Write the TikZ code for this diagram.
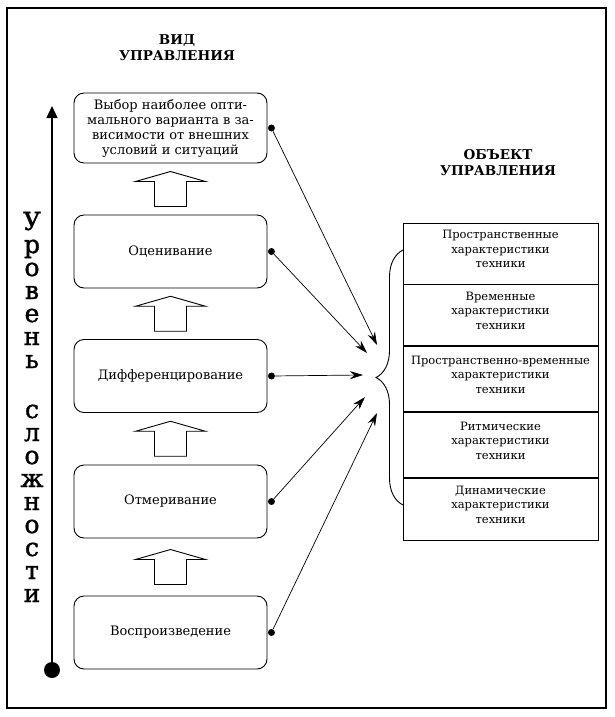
\documentclass[tikz,border=0pt]{standalone}
\usepackage{fontspec}
\setmainfont{DejaVu Serif}
\newfontfamily\levelfont[FakeBold=1.4]{DejaVu Serif}
\usetikzlibrary{arrows.meta, positioning, calc, decorations.pathreplacing}

\begin{document}
\begin{tikzpicture}[x=1pt, y=-1pt,
    vid/.style={rectangle, rounded corners=10pt, draw, line width=0.9pt, minimum width=193pt, minimum height=73pt, align=center, font=\fontsize{13}{15}\selectfont},
    obj/.style={rectangle, draw, line width=0.8pt, minimum width=195pt, align=center, font=\fontsize{11.5}{14.5}\selectfont, inner sep=0pt, text depth=9pt},
    head/.style={font=\bfseries\fontsize{13.5}{16}\selectfont, align=center},
    letter/.style={font=\levelfont\fontsize{25}{25}\selectfont, inner sep=0pt, anchor=base},
    dot/.style={circle, fill, inner sep=0pt, minimum size=7pt},
    link/.style={-{Stealth[length=13pt,width=8pt]}, line width=0.7pt},
    uparrow/.pic={\draw[line width=0.9pt] (-16,17.5) -- (-16,-7.5) -- (-35,-7.5) -- (0,-17.5) -- (35,-7.5) -- (16,-7.5) -- (16,17.5) -- cycle;}
]
\useasboundingbox (0,0) rectangle (614,717);
\draw[line width=1.6pt] (7,8) rectangle (606,708);

% headers
\node[head] (vidtitle) at (177,48) {ВИД\\УПРАВЛЕНИЯ};
\node[head] (objtitle) at (498,163) {ОБЪЕКТ\\УПРАВЛЕНИЯ};

% level axis
\node[circle, fill, inner sep=0pt, minimum size=16pt] (base) at (52,670) {};
\coordinate (top) at (52,106);
\draw[line width=1.3pt, -{Triangle[length=12pt,width=11pt]}] (base) -- (top);
\foreach \ch/\yy [count=\i] in {У/230, р/253, о/276, в/299, е/322, н/345, ь/368,
    с/418, л/441, о/464, ж/487, н/510, о/533, с/556, т/579, и/602}
  \node[letter] (l\i) at (32,\yy) {\ch};

% kinds of control
\node[vid, minimum height=70pt] (choice) at (170.5,128) {Выбор наиболее опти-\\мального варианта в за-\\висимости от внешних\\условий и ситуаций};
\node[vid] (assess) at (170.5,251.5) {Оценивание};
\node[vid] (diff) at (170.5,376) {Дифференцирование};
\node[vid] (measure) at (170.5,501.5) {Отмеривание};
\node[vid] (repro) at (170.5,632.5) {Воспроизведение};

\pic at ($(choice.south)!0.5!(assess.north)$) {uparrow};
\pic at ($(assess.south)!0.5!(diff.north)$) {uparrow};
\pic at ($(diff.south)!0.5!(measure.north)$) {uparrow};
\pic at ($(measure.south)!0.5!(repro.north)$) {uparrow};

% objects of control
\node[obj, minimum height=61pt] (spatial) at (500.5,253.5) {Пространственные\\характеристики\\техники};
\node[obj, minimum height=61pt, below=0pt of spatial] (temporal) {Временные\\характеристики\\техники};
\node[obj, minimum height=65pt, below=0pt of temporal] (spacetime) {Пространственно-временные\\характеристики\\техники};
\node[obj, minimum height=65pt, below=0pt of spacetime] (rhythm) {Ритмические\\характеристики\\техники};
\node[obj, minimum height=62pt, below=0pt of rhythm] (dynamic) {Динамические\\характеристики\\техники};

\draw[decorate, decoration={brace, amplitude=27pt}, line width=0.9pt] (403,505) -- (403,250);

% links
\node[dot] (d1) at ([xshift=4pt]choice.east) {};
\node[dot] (d2) at ([xshift=4pt]assess.east) {};
\node[dot] (d3) at ([xshift=4pt]diff.east) {};
\node[dot] (d4) at ([xshift=4pt]measure.east) {};
\node[dot] (d5) at ([xshift=4pt]repro.east) {};
\coordinate (t1) at (377,345);
\coordinate (t2) at (367,353);
\coordinate (t3) at (363,375);
\coordinate (t4) at (365,397);
\coordinate (t5) at (377,413);
\draw[link] (d1) -- (t1);
\draw[link] (d2) -- (t2);
\draw[link] (d3) -- (t3);
\draw[link] (d4) -- (t4);
\draw[link] (d5) -- (t5);

\end{tikzpicture}
\end{document}
